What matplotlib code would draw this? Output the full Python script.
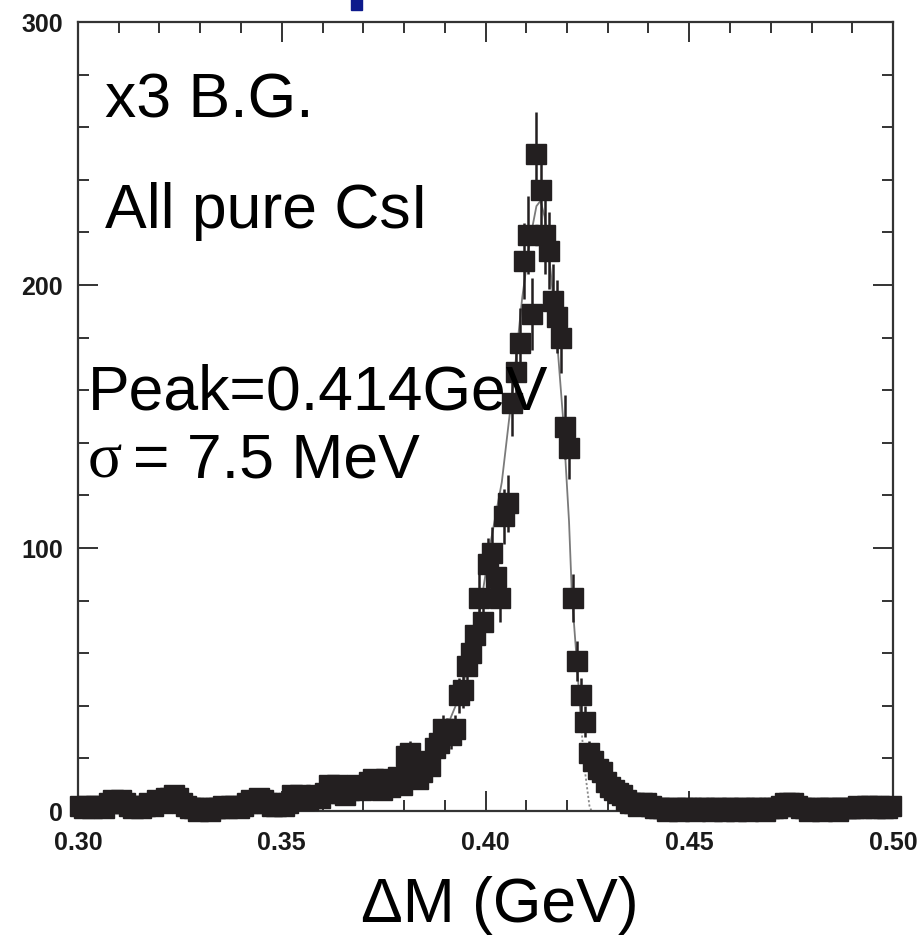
import numpy as np
import matplotlib.pyplot as plt
from matplotlib.patches import Rectangle
from matplotlib.ticker import MultipleLocator, FormatStrFormatter

# =========================
# DATA
# =========================

# bin centres: 1 MeV bins from 0.300 to 0.500 GeV
bin_lo = 0.3005
bin_step = 0.001

counts = [
    2, 1, 2, 1, 2, 2, 1, 3, 4, 3,        # 0.300 - 0.310
    4, 3, 2, 1, 2, 1, 2, 3, 2, 4,        # 0.310 - 0.320
    3, 5, 5, 6, 5, 3, 2, 1, 1, 0,        # 0.320 - 0.330
    1, 1, 0, 1, 1, 2, 1, 2, 2, 1,        # 0.330 - 0.340
    2, 3, 4, 3, 5, 4, 3, 2, 2, 3,        # 0.340 - 0.350
    2, 3, 6, 5, 6, 4, 4, 5, 6, 5,        # 0.350 - 0.360
    7, 10, 9, 10, 7, 6, 8, 9, 10, 8,     # 0.360 - 0.370
    9, 11, 12, 11, 8, 12, 9, 11, 13, 10, # 0.370 - 0.380
    21, 22, 14, 12, 15, 19, 17, 24, 26, 31,   # 0.380 - 0.390
    30, 29, 31, 44, 46, 55, 60, 67, 81, 72,   # 0.390 - 0.400
    94, 98, 89, 81, 112, 117, 155, 167, 178, 209,  # 0.400 - 0.410
    219, 189, 250, 236, 219, 213, 194, 188, 180, 146,  # 0.410 - 0.420
    138, 81, 57, 44, 34, 22, 19, 16, 15, 11,  # 0.420 - 0.430
    9, 8, 7, 6, 4, 3, 3, 2, 3, 3,        # 0.430 - 0.440
    2, 1, 1, 1, 0, 1, 1, 0, 1, 1,        # 0.440 - 0.450
    1, 0, 1, 1, 1, 0, 1, 1, 0, 1,        # 0.450 - 0.460
    1, 0, 1, 1, 0, 1, 1, 1, 0, 1,        # 0.460 - 0.470
    1, 1, 2, 3, 3, 3, 2, 1, 1, 0,        # 0.470 - 0.480
    1, 1, 0, 1, 1, 1, 0, 1, 1, 1,        # 0.480 - 0.490
    1, 2, 1, 2, 2, 1, 2, 1, 1, 2,        # 0.490 - 0.500
]

# fit curve (solid inside fit range, dotted beyond)
fit_x = [0.380, 0.385, 0.390, 0.394, 0.398, 0.401, 0.404, 0.407, 0.409,
         0.411, 0.4125, 0.4135, 0.4145, 0.416, 0.4175, 0.419, 0.4205,
         0.4212, 0.4225, 0.4235]
fit_y = [14, 20, 30, 45, 70, 100, 125, 165, 195,
         218, 230, 232, 226, 205, 180, 150, 110,
         82, 55, 32]
tail_x = [0.4235, 0.4245, 0.4255, 0.4260]
tail_y = [32, 14, 2, 0]

x_ticks = [0.30, 0.35, 0.40, 0.45, 0.50]
y_ticks = [0, 100, 200, 300]

# =========================
# PLOT
# =========================

W, H = 924, 937
fig = plt.figure(figsize=(W / 100, H / 100), dpi=100)
ax = fig.add_axes([78 / W, 1 - 812 / H, (893 - 78) / W, (812 - 23) / H])

x = bin_lo + bin_step * np.arange(len(counts))
y = np.array(counts, dtype=float)

ink = "#231f20"
ax.plot(fit_x, fit_y, color="#7a7a7a", lw=1.3, zorder=2)
ax.plot(tail_x, tail_y, color="#8a8a8a", lw=1.3, ls=(0, (1.2, 1.2)), zorder=2)
eb = ax.errorbar(x, y, yerr=np.sqrt(y), fmt="s", ms=14.5, color=ink,
                 mec=ink, elinewidth=1.8, capsize=0, zorder=3, clip_on=False)
for part in eb.lines[2]:
    part.set_clip_on(False)

ax.set_xlim(0.30, 0.50)
ax.set_ylim(0, 300)
ax.set_xticks(x_ticks)
ax.set_yticks(y_ticks)
ax.xaxis.set_major_formatter(FormatStrFormatter("%.2f"))
ax.xaxis.set_minor_locator(MultipleLocator(0.01))
ax.yaxis.set_minor_locator(MultipleLocator(20))
ax.tick_params(which="both", direction="in", top=True, right=True,
               color="#333333", width=1.4)
ax.tick_params(which="major", length=14.5)
ax.tick_params(which="minor", length=8)
ax.tick_params(axis="x", which="major", pad=14)
ax.tick_params(axis="y", which="major", pad=11)
for lab in ax.get_xticklabels() + ax.get_yticklabels():
    lab.set_fontfamily("Liberation Sans")
    lab.set_fontweight("bold")
    lab.set_fontsize(18)
    lab.set_color("#1a1a1a")
for sp in ax.spines.values():
    sp.set_color("#333333")
    sp.set_linewidth(1.6)


def ftext(px, py, s, size, **kw):
    fig.text(px / W, 1 - py / H, s, fontsize=size, va="baseline",
             family=kw.pop("family", "Liberation Sans"), **kw)


ftext(105, 118, "x3 B.G.", 45)
ftext(105, 228, "All pure CsI", 45)
ftext(88, 410, "Peak=0.414GeV", 45)
ftext(88, 478, "σ", 46, family="Liberation Serif")
ftext(133, 478, "= 7.5 MeV", 45)
ftext(500, 922, "ΔM (GeV)", 45, ha="center")

# cut-off blue title glyph at the top edge
fig.patches.append(Rectangle((351 / W, 1 - 11 / H), 11 / W, 11 / H,
                             transform=fig.transFigure, color="#0d1a8c"))

fig.savefig("out.png", dpi=100)
